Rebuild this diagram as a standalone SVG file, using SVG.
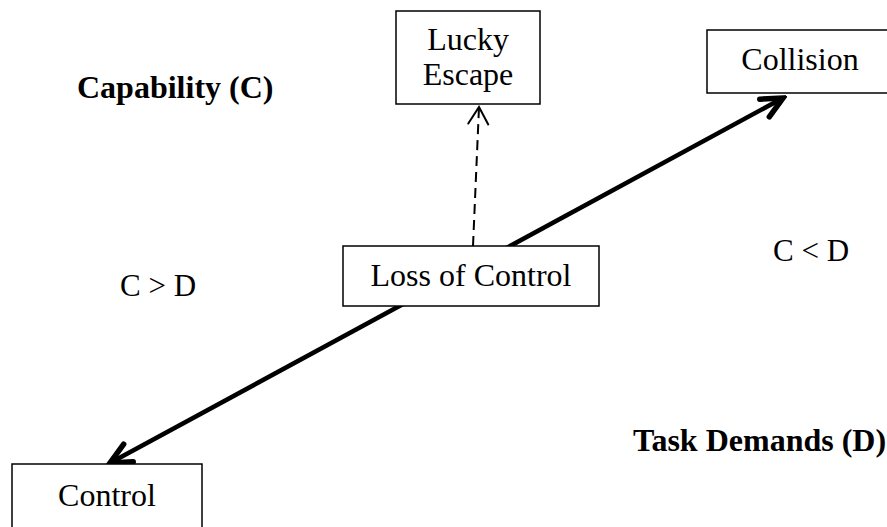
<svg xmlns="http://www.w3.org/2000/svg" width="887" height="527" viewBox="0 0 887 527">
  <style>
    .box { fill: #ffffff; stroke: #000000; stroke-width: 1.5; }
    .lbl { font-family: "Liberation Serif", "Times New Roman", serif; font-size: 32px; fill: #000000; text-anchor: middle; }
    .axis { font-family: "Liberation Serif", "Times New Roman", serif; font-size: 32px; font-weight: bold; fill: #000000; }
    .cmp { font-family: "Liberation Serif", "Times New Roman", serif; font-size: 31px; fill: #000000; }
    .main { stroke: #000000; stroke-width: 4.5; fill: none; }
    .dash { stroke: #000000; stroke-width: 2; fill: none; stroke-dasharray: 10 6; }
  </style>
  <defs>
    <marker id="openHeadBold" markerUnits="userSpaceOnUse" viewBox="-26 -14 30 28" markerWidth="30" markerHeight="28" refX="0" refY="0" orient="auto-start-reverse">
      <path d="M -21 -10 L 0 0 L -21 10" fill="none" stroke="#000" stroke-width="5.5" stroke-linecap="round" stroke-linejoin="miter"/>
    </marker>
    <marker id="openHeadThin" markerUnits="userSpaceOnUse" viewBox="-22 -12 26 24" markerWidth="26" markerHeight="24" refX="0" refY="0" orient="auto">
      <path d="M -17 -10 L 0 0 L -17 10" fill="none" stroke="#000" stroke-width="2" stroke-linecap="round"/>
    </marker>
  </defs>

  <rect width="887" height="527" fill="#ffffff"/>

  <!-- connectors -->
  <g id="connectors">
    <line class="main" x1="110" y1="463" x2="783" y2="98" marker-start="url(#openHeadBold)" marker-end="url(#openHeadBold)"/>
    <line class="dash" x1="473" y1="246" x2="479" y2="107" marker-end="url(#openHeadThin)"/>
  </g>

  <!-- nodes -->
  <g id="lucky-escape">
    <rect class="box" x="396" y="11" width="144" height="93"/>
    <text class="lbl" x="468" y="50">Lucky</text>
    <text class="lbl" x="468" y="85">Escape</text>
  </g>

  <g id="collision">
    <rect class="box" x="707" y="30" width="192" height="63"/>
    <text class="lbl" x="800" y="70">Collision</text>
  </g>

  <g id="loss-of-control">
    <rect class="box" x="343" y="246" width="256" height="60"/>
    <text class="lbl" x="471" y="286">Loss of Control</text>
  </g>

  <g id="control">
    <rect class="box" x="12" y="464" width="190" height="80"/>
    <text class="lbl" x="107" y="506">Control</text>
  </g>

  <!-- region and axis labels -->
  <g id="labels">
    <text class="axis" x="77" y="98">Capability (C)</text>
    <text class="axis" x="633" y="451" font-size="31">Task Demands (D)</text>
    <text class="cmp" x="120" y="296">C &gt; D</text>
    <text class="cmp" x="773" y="261">C &lt; D</text>
  </g>
</svg>
